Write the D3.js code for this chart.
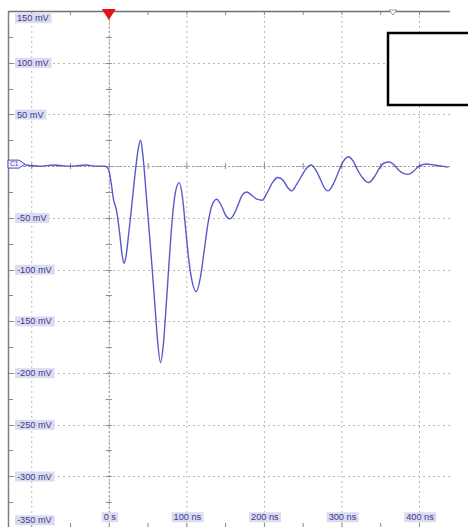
<!DOCTYPE html>
<html>
<head>
<meta charset="utf-8">
<script src="https://cdn.jsdelivr.net/npm/d3@7"></script>
<style>
  html, body { margin: 0; padding: 0; background: #fff; }
  svg { display: block; }
</style>
</head>
<body>
<div id="viz"></div>
<script>
// time of each trace sample (ns)
var timeNs = [-108, -90, -70, -50, -30, -15, -5, 0, 3, 6, 10, 14, 17, 19.5, 22, 25, 30, 35, 38, 41,
  44, 48, 52, 56, 60, 63, 66.7, 70, 74, 78, 82, 86, 90.8, 95, 99, 103, 107, 113,
  118, 123, 128, 133, 139, 145, 151, 156, 161, 167, 172, 178, 184, 191, 198,
  204, 211, 218, 225, 230, 236, 242, 249, 255, 261, 267, 273, 278, 283, 289,
  296, 302, 309, 315, 321, 328, 335, 342, 349, 355, 362, 368, 374, 380, 386,
  393, 400, 410, 420, 430, 438];
// channel 1 voltage (mV)
var voltMv = [1, 0, 1, 0, 1, 0, 0, -4, -16, -32, -43, -65, -85, -94, -88, -70, -35, 0, 17, 25,
  10, -25, -62, -100, -140, -170, -190, -175, -135, -90, -50, -25, -16, -30, -60, -90, -110, -121.5,
  -108, -82, -55, -38, -32, -38, -48, -51, -47, -37, -28, -25, -28, -32, -33,
  -26, -16, -11, -14, -20, -24, -18, -9, -2, 1, -4, -13, -21, -24, -18,
  -6, 4, 9, 5, -4, -12, -16, -11, -2, 3, 4, 1, -4, -7, -8,
  -5, 0, 2, 1, 0, -1];

// graticule
var xMajor = [-100, 0, 100, 200, 300, 400];
var xLabels = ["0 s", "100 ns", "200 ns", "300 ns", "400 ns"];
var yMajor = [150, 100, 50, 0, -50, -100, -150, -200, -250, -300, -350];
var yLabels = ["150 mV", "100 mV", "50 mV", "-50 mV", "-100 mV", "-150 mV", "-200 mV", "-250 mV", "-300 mV", "-350 mV"];
var yLabelVals = [150, 100, 50, -50, -100, -150, -200, -250, -300, -350];

var W = 468, H = 527;
var pLeft = 8, pRight = 450, pTop = 11, pBottom = 528;

var svg = d3.select("#viz").append("svg")
    .attr("width", W)
    .attr("height", H);

var x = d3.scaleLinear().domain([-130, 440]).range([pLeft, pRight]);
var y = d3.scaleLinear().domain([-350, 150]).range([pBottom, pTop]);

// dotted grid
var grid = svg.append("g")
    .attr("stroke", "#b8b8b8")
    .attr("stroke-width", 1)
    .attr("stroke-dasharray", "2,3");

grid.selectAll("line.v")
  .data(xMajor)
  .join("line")
    .attr("x1", d => x(d) + 0.5).attr("x2", d => x(d) + 0.5)
    .attr("y1", pTop).attr("y2", H);

grid.selectAll("line.h")
  .data(yMajor)
  .join("line")
    .attr("y1", d => Math.round(y(d)) + 0.5).attr("y2", d => Math.round(y(d)) + 0.5)
    .attr("x1", pLeft).attr("x2", pRight);

// half division ticks
var halfX = d3.range(-150, 450, 50).filter(d => d > -130 && d < 440);
var halfY = d3.range(-350, 175, 25);

var ticks = svg.append("g").attr("stroke", "#8a8a8a").attr("stroke-width", 1);

// ticks on zero mV line
ticks.selectAll("line.zx")
  .data(halfX)
  .join("line")
    .attr("x1", d => x(d) + 0.5).attr("x2", d => x(d) + 0.5)
    .attr("y1", y(0) - 3).attr("y2", y(0) + 3);

// ticks on 0 s line
ticks.selectAll("line.zy")
  .data(halfY)
  .join("line")
    .attr("y1", d => Math.round(y(d)) + 0.5).attr("y2", d => Math.round(y(d)) + 0.5)
    .attr("x1", x(0) - 3).attr("x2", x(0) + 3);

// left frame ticks
ticks.selectAll("line.ly")
  .data(halfY)
  .join("line")
    .attr("y1", d => Math.round(y(d)) + 0.5).attr("y2", d => Math.round(y(d)) + 0.5)
    .attr("x1", pLeft).attr("x2", pLeft + 5);

// top frame ticks
ticks.selectAll("line.tx")
  .data(halfX)
  .join("line")
    .attr("x1", d => x(d) + 0.5).attr("x2", d => x(d) + 0.5)
    .attr("y1", pTop).attr("y2", pTop + 4);

// bottom ticks
ticks.selectAll("line.bx")
  .data(halfX)
  .join("line")
    .attr("x1", d => x(d) + 0.5).attr("x2", d => x(d) + 0.5)
    .attr("y1", H - 4).attr("y2", H);

// centre axes a bit darker
svg.append("line")
    .attr("x1", x(0) + 0.5).attr("x2", x(0) + 0.5)
    .attr("y1", pTop).attr("y2", H)
    .attr("stroke", "#9a9a9a")
    .attr("stroke-dasharray", "2,2");
svg.append("line")
    .attr("x1", pLeft).attr("x2", pRight)
    .attr("y1", Math.round(y(0)) + 0.5).attr("y2", Math.round(y(0)) + 0.5)
    .attr("stroke", "#9a9a9a")
    .attr("stroke-dasharray", "2,2");

// frame: top and left
svg.append("line")
    .attr("x1", pLeft).attr("x2", pRight)
    .attr("y1", pTop + 0.5).attr("y2", pTop + 0.5)
    .attr("stroke", "#707070").attr("stroke-width", 1.3);
svg.append("line")
    .attr("x1", pLeft + 0.5).attr("x2", pLeft + 0.5)
    .attr("y1", pTop).attr("y2", H)
    .attr("stroke", "#808080").attr("stroke-width", 1.5);

// trace
var trace = timeNs.map((t, i) => ({t: t, v: voltMv[i]}));
svg.append("path")
    .datum(trace)
    .attr("fill", "none")
    .attr("stroke", "#3c3cc4")
    .attr("stroke-width", 1.4)
    .attr("stroke-opacity", 0.85)
    .attr("d", d3.line()
        .curve(d3.curveMonotoneX)
        .x(d => x(d.t))
        .y(d => y(d.v)));

// labels with tinted boxes
function label(g, txt, cx, cy, anchor) {
  var t = g.append("text")
      .attr("x", cx).attr("y", cy)
      .attr("dy", "0.35em")
      .attr("text-anchor", anchor)
      .attr("font-family", "Liberation Sans, Arial, sans-serif")
      .attr("font-size", 9.2)
      .attr("fill", "#3a3a92")
      .text(txt);
  var b = t.node().getBBox();
  g.insert("rect", "text")
      .attr("x", b.x - 2).attr("y", b.y)
      .attr("width", b.width + 4).attr("height", b.height)
      .attr("fill", "#dcdcf0");
}

var yl = svg.append("g");
yLabelVals.forEach(function(v, i) {
  var cy = y(v);
  if (v === 150) cy = y(v) + 7;
  if (v === -350) cy = y(v) - 8;
  var g = yl.append("g");
  label(g, yLabels[i], 17, cy, "start");
});

var xl = svg.append("g");
xLabels.forEach(function(s, i) {
  var g = xl.append("g");
  label(g, s, x(xMajor[i + 1]) + 1, 517, "middle");
});

// trigger marker
svg.append("path")
    .attr("d", d3.line()([[x(0) - 7, pTop - 2], [x(0) + 7, pTop - 2], [x(0), pTop + 9]]))
    .attr("fill", "#e01414");

// small gray marker on top edge
svg.append("path")
    .attr("d", d3.line()([[389, pTop - 1], [397, pTop - 1], [393, pTop + 4]]) + "Z")
    .attr("fill", "#fff")
    .attr("stroke", "#999");

// channel marker C1
var cy0 = y(0) - 2;
svg.append("path")
    .attr("d", d3.line()([[pLeft, cy0 - 4], [19, cy0 - 4], [25, cy0], [19, cy0 + 4], [pLeft, cy0 + 4]]) + "Z")
    .attr("fill", "#eeeeff")
    .attr("stroke", "#4a4ac0")
    .attr("stroke-width", 1);
svg.append("text")
    .attr("x", 10).attr("y", cy0)
    .attr("dy", "0.35em")
    .attr("font-family", "Liberation Sans, Arial, sans-serif")
    .attr("font-size", 6.5)
    .attr("fill", "#4a4ac0")
    .text("C1");

// empty box top right
svg.append("rect")
    .attr("x", 388).attr("y", 33)
    .attr("width", 100).attr("height", 72)
    .attr("fill", "#fff")
    .attr("stroke", "#000")
    .attr("stroke-width", 2.5);
</script>
</body>
</html>
